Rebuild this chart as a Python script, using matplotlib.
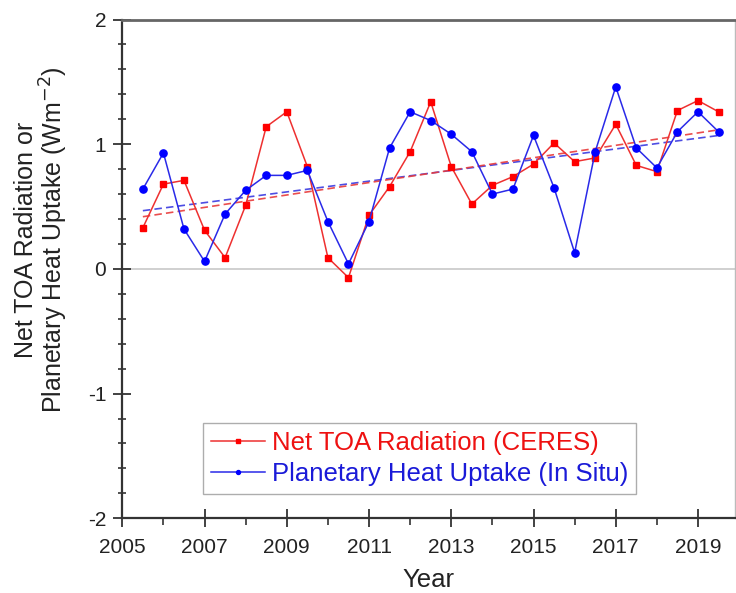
import numpy as np
import matplotlib
matplotlib.use("Agg")
import matplotlib.pyplot as plt
from matplotlib.ticker import MultipleLocator

plt.rcParams['font.family'] = ['Liberation Sans', 'DejaVu Sans']
plt.rcParams['axes.unicode_minus'] = False

years = [2005.5 + 0.5 * i for i in range(29)]
ceres = [0.33, 0.68, 0.71, 0.31, 0.09, 0.51, 1.14, 1.26, 0.82, 0.09, -0.07,
         0.43, 0.66, 0.94, 1.34, 0.82, 0.52, 0.67, 0.74, 0.84, 1.01, 0.86,
         0.89, 1.16, 0.83, 0.78, 1.27, 1.35, 1.26]
insitu = [0.64, 0.93, 0.32, 0.06, 0.44, 0.63, 0.75, 0.75, 0.79, 0.38, 0.04,
          0.38, 0.97, 1.26, 1.19, 1.08, 0.94, 0.60, 0.64, 1.07, 0.65, 0.13,
          0.94, 1.46, 0.97, 0.81, 1.10, 1.26, 1.10]
xticks = [2005, 2007, 2009, 2011, 2013, 2015, 2017, 2019]
yticks = [-2, -1, 0, 1, 2]

fig = plt.figure(figsize=(7.36, 5.93), dpi=100)
W, H = 736, 593
x0, x1, ytop, ybot = 122.3, 735.0, 19.5, 518.3
ax = fig.add_axes([x0 / W, 1 - ybot / H, (x1 - x0) / W, (ybot - ytop) / H])

ax.axhline(0, color='#c8c8c8', lw=1.2, zorder=1)

yrs = np.array(years)
for vals, col in [(insitu, '#3a3ae0'), (ceres, '#e83a3a')]:
    p = np.polyfit(yrs, np.array(vals), 1)
    ax.plot(yrs[[0, -1]], np.polyval(p, yrs[[0, -1]]), ls=(0, (4.5, 2.5)),
            color=col, lw=1.2, alpha=0.9, zorder=2)

ax.plot(years, ceres, color='#ee3030', lw=1.1, marker='s', ms=4.8,
        mfc='#ff0000', mec='#ff0000', zorder=3,
        label='Net TOA Radiation (CERES)')
ax.plot(years, insitu, color='#2a2ae8', lw=1.1, marker='o', ms=5.2,
        mfc='#0000ff', mec='#0000ff', zorder=4,
        label='Planetary Heat Uptake (In Situ)')

ax.set_xlim(2005, 2019.9)
ax.set_ylim(-2, 2)
ax.set_xticks(xticks)
ax.set_yticks(yticks)
ax.xaxis.set_minor_locator(MultipleLocator(1))
ax.yaxis.set_minor_locator(MultipleLocator(0.2))
ax.tick_params(which='major', direction='inout', length=13, width=1.3,
               labelsize=15, colors='#333333', labelcolor='#222222', pad=5)
ax.tick_params(axis='x', which='major', pad=7.5)
ax.tick_params(which='minor', direction='inout', length=6, width=1.2,
               colors='#333333')
ax.tick_params(axis='x', which='minor', direction='out', length=5)
for s in ['left', 'bottom']:
    ax.spines[s].set_linewidth(1.6)
    ax.spines[s].set_color('#333333')
ax.spines['top'].set_linewidth(2.0)
ax.spines['top'].set_color('#666666')
ax.spines['right'].set_linewidth(1.0)
ax.spines['right'].set_color('#bbbbbb')

ax.set_xlabel('Year', fontsize=18.5, color='#222222', labelpad=8)
fig.text(42 / W, 1 - 240 / H,
         'Net TOA Radiation or\nPlanetary Heat Uptake (Wm$^{-2}$)',
         fontsize=18, color='#222222', rotation=90, ha='center',
         va='center', linespacing=0.98, multialignment='center')

leg = ax.legend(loc='upper left', bbox_to_anchor=(203 / W, 1 - 423 / H),
                bbox_transform=fig.transFigure, borderaxespad=0,
                fontsize=18.5, frameon=True, fancybox=False,
                edgecolor='#999999', handlelength=2.1, handletextpad=0.3,
                borderpad=0.3, labelspacing=0.3, markerscale=0.55)
leg.get_frame().set_linewidth(1.0)
for t, c in zip(leg.get_texts(), ['#ee1111', '#1a1ad8']):
    t.set_color(c)

fig.savefig('out.png', dpi=100)
